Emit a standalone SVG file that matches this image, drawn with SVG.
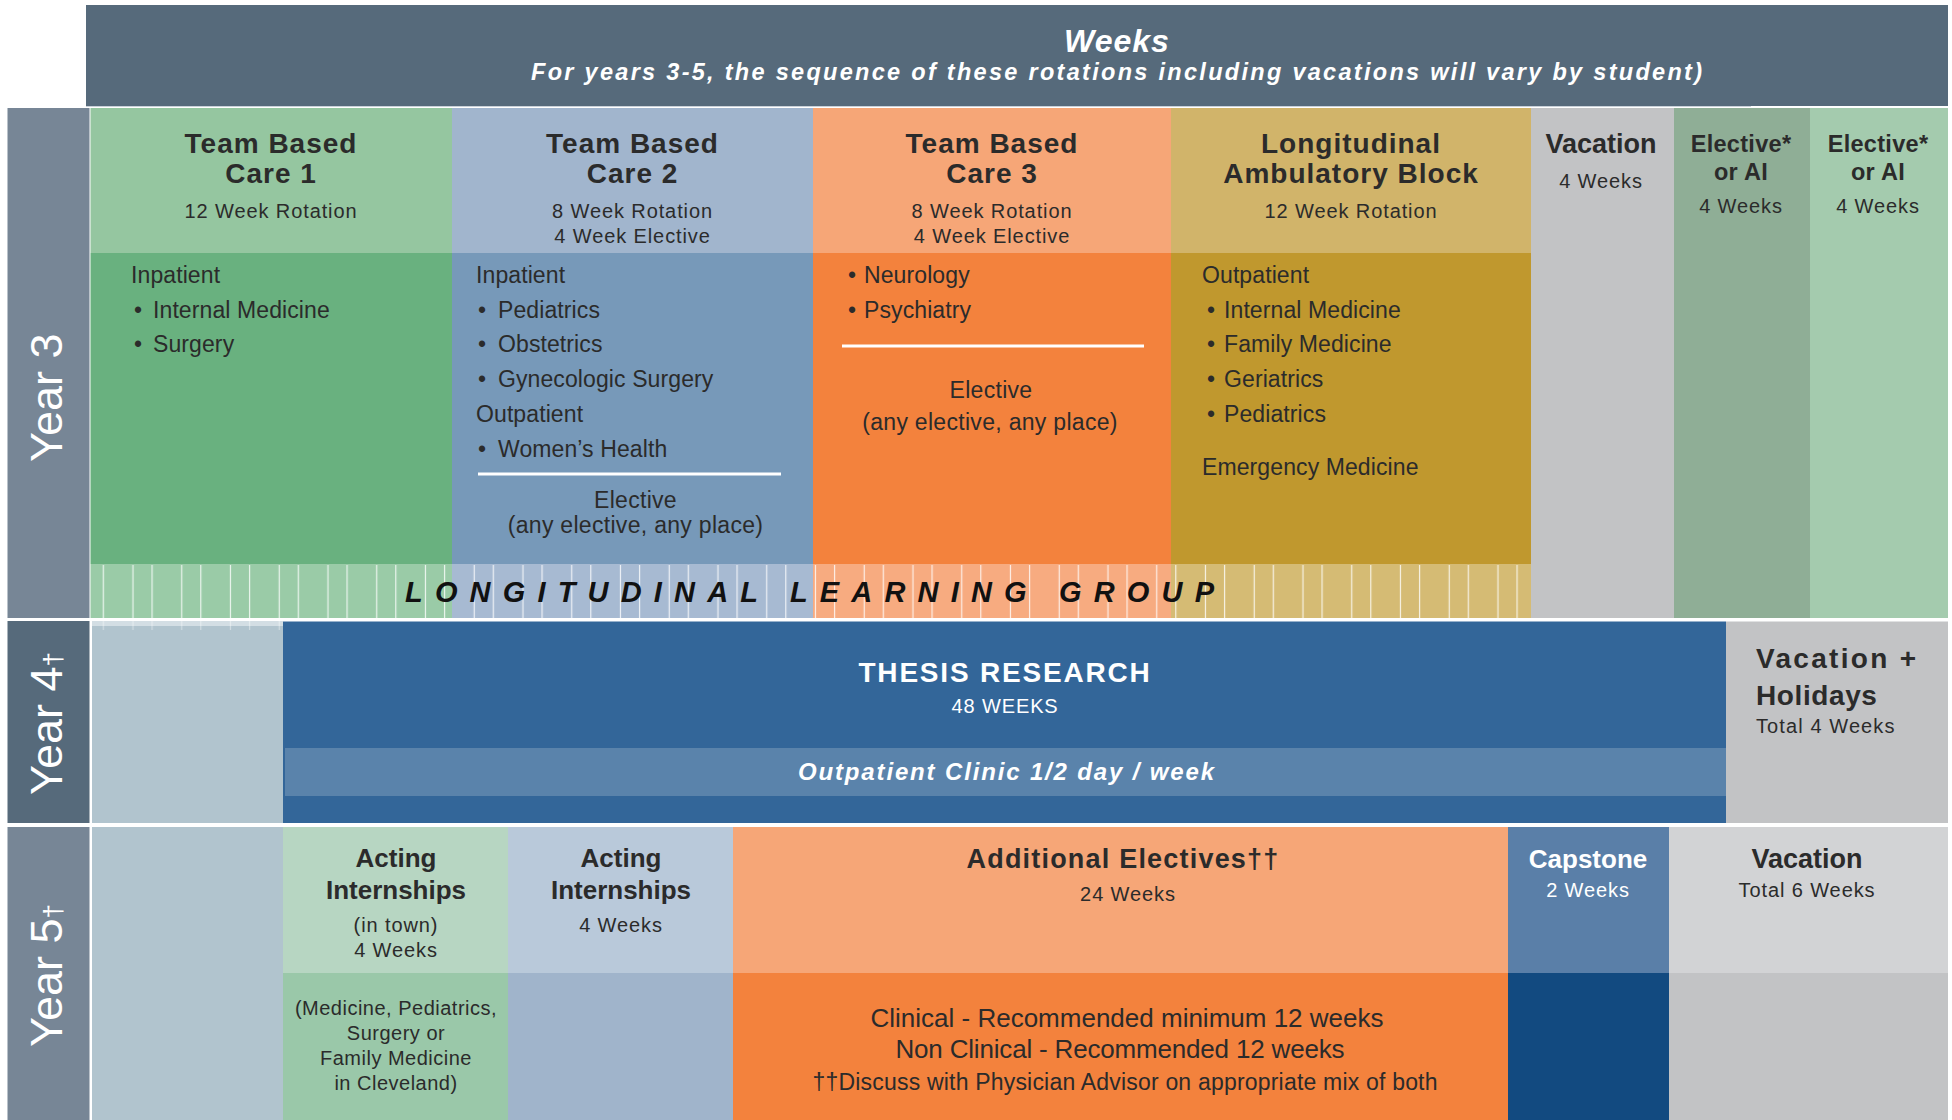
<svg xmlns="http://www.w3.org/2000/svg" width="1952" height="1120" viewBox="0 0 1952 1120">
<defs>
<style>
text{font-family:"Liberation Sans",Arial,Helvetica,sans-serif}
.dk{fill:#2b2b2b}
.wh{fill:#ffffff}
.h{font-weight:bold;font-size:28px;letter-spacing:1px;text-anchor:middle}
.h2{font-weight:bold;font-size:23.5px;letter-spacing:0.3px;text-anchor:middle}
.s{font-size:20px;letter-spacing:0.9px;text-anchor:middle}
.b{font-size:23px;letter-spacing:0.1px}
.bc{font-size:23px;letter-spacing:0.3px;text-anchor:middle}
.yr{font-size:45px;fill:#ffffff}
.dv{stroke:#ffffff;stroke-width:3}
</style>
<pattern id="llg" patternUnits="userSpaceOnUse" x="102.7" y="0" width="48.75" height="20">
<rect x="0" y="0" width="1.2" height="20" fill="#ffffff" fill-opacity="0.8"/>
<rect x="29.7" y="0" width="1.2" height="20" fill="#ffffff" fill-opacity="0.8"/>
</pattern>
</defs>
<rect x="0" y="0" width="1952" height="1120" fill="#ffffff"/>

<g id="header">
<rect x="86" y="5" width="1862" height="101" fill="#566a7b"/>
<line x1="86" y1="106.5" x2="1751" y2="106.5" stroke="#c9d1d9" stroke-width="1"/>
<text x="1117" y="52" class="wh" style="font-weight:bold;font-style:italic;font-size:32px;letter-spacing:1px" text-anchor="middle">Weeks</text>
<text x="1116.5" y="80" class="wh" style="font-weight:bold;font-style:italic;font-size:23.5px" text-anchor="middle" textLength="1171" lengthAdjust="spacing">For years 3-5, the sequence of these rotations including vacations will vary by student)</text>
</g>

<g id="year3-label">
<rect x="7.5" y="108" width="82" height="510" fill="#778696"/>
<text class="yr" transform="translate(62,462) rotate(-90)">Year 3</text>
</g>

<g id="tbc1">
<rect x="90.5" y="108" width="361.5" height="145" fill="#95c6a0"/>
<rect x="90.5" y="253" width="361.5" height="311" fill="#69b17f"/>
<text x="271" y="153" class="h dk">Team Based</text>
<text x="271" y="183" class="h dk">Care 1</text>
<text x="271" y="218" class="s dk">12 Week Rotation</text>
<text x="131" y="283" class="b dk">Inpatient</text>
<text x="134" y="318" class="b dk">•<tspan x="153">Internal Medicine</tspan></text>
<text x="134" y="352" class="b dk">•<tspan x="153">Surgery</tspan></text>
</g>

<g id="tbc2">
<rect x="452" y="108" width="361" height="145" fill="#a1b5cd"/>
<rect x="452" y="253" width="361" height="311" fill="#7799b9"/>
<text x="632.5" y="153" class="h dk">Team Based</text>
<text x="632.5" y="183" class="h dk">Care 2</text>
<text x="632.5" y="218" class="s dk">8 Week Rotation</text>
<text x="632.5" y="243" class="s dk">4 Week Elective</text>
<text x="476" y="283" class="b dk">Inpatient</text>
<text x="478" y="318" class="b dk">•<tspan x="498">Pediatrics</tspan></text>
<text x="478" y="352" class="b dk">•<tspan x="498">Obstetrics</tspan></text>
<text x="478" y="387" class="b dk">•<tspan x="498">Gynecologic Surgery</tspan></text>
<text x="476" y="422" class="b dk">Outpatient</text>
<text x="478" y="457" class="b dk">•<tspan x="498">Women’s Health</tspan></text>
<line x1="478" y1="474" x2="781" y2="474" class="dv"/>
<text x="635.5" y="508" class="bc dk">Elective</text>
<text x="635.5" y="533" class="bc dk">(any elective, any place)</text>
</g>

<g id="tbc3">
<rect x="813" y="108" width="358" height="145" fill="#f6a677"/>
<rect x="813" y="253" width="358" height="311" fill="#f3823d"/>
<text x="992" y="153" class="h dk">Team Based</text>
<text x="992" y="183" class="h dk">Care 3</text>
<text x="992" y="218" class="s dk">8 Week Rotation</text>
<text x="992" y="243" class="s dk">4 Week Elective</text>
<text x="848" y="283" class="b dk">•<tspan x="864">Neurology</tspan></text>
<text x="848" y="318" class="b dk">•<tspan x="864">Psychiatry</tspan></text>
<line x1="842" y1="346" x2="1144" y2="346" class="dv"/>
<text x="991" y="398" class="bc dk">Elective</text>
<text x="990" y="430" class="bc dk">(any elective, any place)</text>
</g>

<g id="lab">
<rect x="1171" y="108" width="360" height="145" fill="#d1b46a"/>
<rect x="1171" y="253" width="360" height="311" fill="#c0982e"/>
<text x="1351" y="153" class="h dk">Longitudinal</text>
<text x="1351" y="183" class="h dk">Ambulatory Block</text>
<text x="1351" y="218" class="s dk">12 Week Rotation</text>
<text x="1202" y="283" class="b dk">Outpatient</text>
<text x="1207" y="318" class="b dk">•<tspan x="1224">Internal Medicine</tspan></text>
<text x="1207" y="352" class="b dk">•<tspan x="1224">Family Medicine</tspan></text>
<text x="1207" y="387" class="b dk">•<tspan x="1224">Geriatrics</tspan></text>
<text x="1207" y="422" class="b dk">•<tspan x="1224">Pediatrics</tspan></text>
<text x="1202" y="475" class="b dk">Emergency Medicine</text>
</g>

<g id="llg-band">
<rect x="90.5" y="564" width="361.5" height="54" fill="#9acba7"/>
<rect x="452" y="564" width="361" height="54" fill="#a7bad2"/>
<rect x="813" y="564" width="358" height="54" fill="#f7ab80"/>
<rect x="1171" y="564" width="360" height="54" fill="#d5bb74"/>
<rect x="90.5" y="565" width="1440.5" height="53" fill="url(#llg)"/>
<text x="405" y="602" style="font-weight:bold;font-style:italic;font-size:29px;fill:#111111" textLength="809" lengthAdjust="spacing">LONGITUDINAL LEARNING GROUP</text>
</g>

<g id="vacation-y3">
<rect x="1531" y="108" width="143" height="510" fill="#c2c3c5"/>
<text x="1601" y="153" class="dk" style="font-weight:bold;font-size:27px;text-anchor:middle">Vacation</text>
<text x="1601" y="188" class="s dk">4 Weeks</text>
</g>

<g id="elective-ai-1">
<rect x="1674" y="108" width="136" height="510" fill="#8fae96"/>
<text x="1741" y="152" class="h2 dk">Elective*</text>
<text x="1741" y="180" class="h2 dk">or AI</text>
<text x="1741" y="213" class="s dk">4 Weeks</text>
</g>

<g id="elective-ai-2">
<rect x="1810" y="108" width="138" height="510" fill="#a4cbae"/>
<text x="1878" y="152" class="h2 dk">Elective*</text>
<text x="1878" y="180" class="h2 dk">or AI</text>
<text x="1878" y="213" class="s dk">4 Weeks</text>
</g>

<g id="year4-label">
<rect x="7.5" y="621" width="82" height="202" fill="#566a7b"/>
<text class="yr" transform="translate(62,795) rotate(-90)">Year 4<tspan style="font-size:26px">†</tspan></text>
</g>

<g id="year4-blank">
<rect x="92" y="621" width="191" height="202" fill="#b1c4ce"/>
<rect x="92" y="621" width="191" height="5" fill="#d3dee4"/>
<rect x="92" y="621" width="191" height="9" fill="url(#llg)" opacity="0.5"/>
</g>

<g id="thesis-research">
<rect x="283" y="621.5" width="1443" height="201.5" fill="#336699"/>
<text x="1005" y="682" class="wh" style="font-weight:bold;font-size:28px;letter-spacing:1.8px;text-anchor:middle">THESIS RESEARCH</text>
<text x="1005" y="713" class="s wh">48 WEEKS</text>
</g>

<g id="outpatient-clinic">
<rect x="285" y="748" width="1441" height="48" fill="#5a83ab"/>
<text x="1006" y="780" class="wh" style="font-weight:bold;font-style:italic;font-size:24px;text-anchor:middle" textLength="416" lengthAdjust="spacing">Outpatient Clinic 1/2 day / week</text>
</g>

<g id="vacation-holidays">
<rect x="1726" y="621.5" width="222" height="201.5" fill="#c2c3c5"/>
<text x="1756" y="668" class="dk" style="font-weight:bold;font-size:28px" textLength="160" lengthAdjust="spacing">Vacation +</text>
<text x="1756" y="705" class="dk" style="font-weight:bold;font-size:28px;letter-spacing:0.6px">Holidays</text>
<text x="1756" y="733" class="dk" style="font-size:20px;letter-spacing:1.1px">Total 4 Weeks</text>
</g>

<g id="year5-label">
<rect x="7.5" y="827" width="82" height="293" fill="#778696"/>
<text class="yr" transform="translate(62,1047) rotate(-90)">Year 5<tspan style="font-size:26px">†</tspan></text>
</g>

<g id="year5-blank">
<rect x="92" y="827" width="191" height="293" fill="#b1c4ce"/>
</g>

<g id="acting-internships-town">
<rect x="283" y="827" width="225" height="146" fill="#b7d6c2"/>
<rect x="283" y="973" width="225" height="147" fill="#9ac8a9"/>
<text x="396" y="867" class="dk" style="font-weight:bold;font-size:26px;text-anchor:middle">Acting</text>
<text x="396" y="899" class="dk" style="font-weight:bold;font-size:26px;text-anchor:middle">Internships</text>
<text x="396" y="932" class="s dk">(in town)</text>
<text x="396" y="957" class="s dk">4 Weeks</text>
<text x="396" y="1015" class="dk" style="font-size:20px;letter-spacing:0.5px;text-anchor:middle">(Medicine, Pediatrics,</text>
<text x="396" y="1040" class="dk" style="font-size:20px;letter-spacing:0.5px;text-anchor:middle">Surgery or</text>
<text x="396" y="1065" class="dk" style="font-size:20px;letter-spacing:0.5px;text-anchor:middle">Family Medicine</text>
<text x="396" y="1090" class="dk" style="font-size:20px;letter-spacing:0.5px;text-anchor:middle">in Cleveland)</text>
</g>

<g id="acting-internships">
<rect x="508" y="827" width="225" height="146" fill="#b9c9da"/>
<rect x="508" y="973" width="225" height="147" fill="#a0b4cb"/>
<text x="621" y="867" class="dk" style="font-weight:bold;font-size:26px;text-anchor:middle">Acting</text>
<text x="621" y="899" class="dk" style="font-weight:bold;font-size:26px;text-anchor:middle">Internships</text>
<text x="621" y="932" class="s dk">4 Weeks</text>
</g>

<g id="additional-electives">
<rect x="733" y="827" width="775" height="146" fill="#f6a677"/>
<rect x="733" y="973" width="775" height="147" fill="#f3823d"/>
<text x="1123" y="868" class="dk" style="font-weight:bold;font-size:27px;letter-spacing:1.2px;text-anchor:middle">Additional Electives††</text>
<text x="1128" y="901" class="s dk">24 Weeks</text>
<text x="1127" y="1027" class="dk" style="font-size:26px;text-anchor:middle" textLength="513" lengthAdjust="spacing">Clinical - Recommended minimum 12 weeks</text>
<text x="1120" y="1058" class="dk" style="font-size:26px;text-anchor:middle" textLength="449" lengthAdjust="spacing">Non Clinical - Recommended 12 weeks</text>
<text x="1125" y="1090" class="dk" style="font-size:23px;text-anchor:middle" textLength="625" lengthAdjust="spacing">††Discuss with Physician Advisor on appropriate mix of both</text>
</g>

<g id="capstone">
<rect x="1508" y="827" width="161" height="146" fill="#5a7fa8"/>
<rect x="1508" y="973" width="161" height="147" fill="#124a80"/>
<text x="1588" y="868" class="wh" style="font-weight:bold;font-size:26px;text-anchor:middle">Capstone</text>
<text x="1588" y="897" class="s wh">2 Weeks</text>
</g>

<g id="vacation-y5">
<rect x="1669" y="827" width="279" height="146" fill="#d2d3d5"/>
<rect x="1669" y="973" width="279" height="147" fill="#c2c3c5"/>
<text x="1807" y="868" class="dk" style="font-weight:bold;font-size:27px;text-anchor:middle">Vacation</text>
<text x="1807" y="897" class="s dk">Total 6 Weeks</text>
</g>
</svg>
